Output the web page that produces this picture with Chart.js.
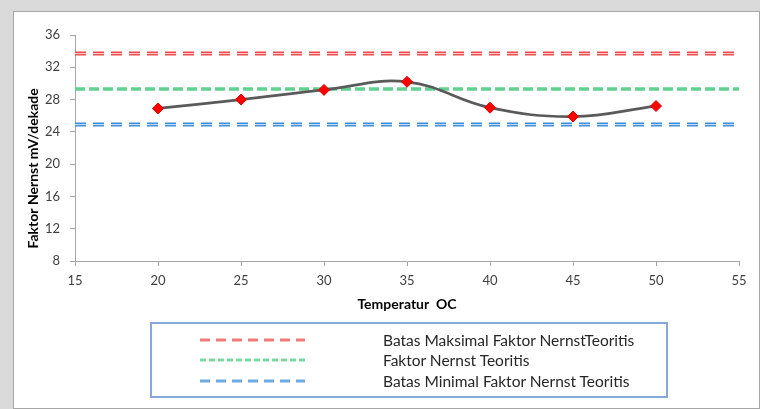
<!DOCTYPE html>
<html>
<head>
<meta charset="utf-8">
<script src="https://cdn.jsdelivr.net/npm/chart.js@4/dist/chart.umd.min.js"></script>
<style>
html,body{margin:0;padding:0;width:760px;height:409px;overflow:hidden;background:#dadada;}
#frame{position:absolute;left:13px;top:11px;width:745px;height:396px;background:#ffffff;border:1px solid #a6a6a6;}
#c{position:absolute;left:0;top:0;}
#legend{position:absolute;left:150px;top:322px;width:514px;height:72px;border:2px solid #86abd8;font-family:Lato,"Open Sans",sans-serif;font-size:15.5px;color:#262626;}
.row{position:absolute;left:0;width:514px;height:20px;}
.row svg{position:absolute;left:48px;top:0;}
.row span{position:absolute;left:231px;top:0px;white-space:nowrap;line-height:20px;}
</style>
</head>
<body>
<div id="frame"></div>
<canvas id="c" width="760" height="409"></canvas>
<div id="legend"></div>
<script>
// ---- data ----
const temperatures = [20, 25, 30, 35, 40, 45, 50];
const nernstFactor = [26.9, 28.0, 29.2, 30.2, 27.0, 25.9, 27.2];
const xRange = [15, 55];
const maxTheoretical = 33.7;
const theoretical = 29.3;
const minTheoretical = 24.9;
const legendLabels = [
  'Batas Maksimal Faktor NernstTeoritis',
  'Faktor Nernst Teoritis',
  'Batas Minimal Faktor Nernst Teoritis'
];
const xTickRange = {min: 15, max: 55, step: 5};
const yTickRange = {min: 8, max: 36, step: 4};
const xTitle = 'Temperatur  OC';
const yTitle = 'Faktor Nernst mV/dekade';

const flat = v => xRange.map(x => ({x: x, y: v}));
const measured = temperatures.map((t, i) => ({x: t, y: nernstFactor[i]}));

const FONT = 'Lato, "Open Sans", sans-serif';

const refLines = [
  {label: legendLabels[0], value: maxTheoretical, color: '#f04a4a', legendColor: '#f27a7a', dash: [11, 7], width: 4, inner: true, legendDash: '10,6'},
  {label: legendLabels[1], value: theoretical, color: '#62d08f', legendColor: '#7ad9a0', dash: [10, 4], width: 3.5, inner: false, legendDash: '6,3'},
  {label: legendLabels[2], value: minTheoretical, color: '#3a8ddb', legendColor: '#6fa9df', dash: [11, 7], width: 4, inner: true, legendDash: '10,6'}
];

const datasets = [{
  label: 'Faktor Nernst',
  data: measured,
  borderColor: '#5a5a5a',
  borderWidth: 2.75,
  tension: 0.4,
  pointStyle: 'rectRot',
  pointRadius: 5.5,
  pointBackgroundColor: '#ff0000',
  pointBorderColor: '#e00000',
  pointBorderWidth: 1,
  order: 0
}];
refLines.forEach(r => {
  datasets.push({
    label: r.label, data: flat(r.value), borderColor: r.color, borderWidth: r.width,
    borderDash: r.dash, pointRadius: 0, order: 2
  });
  if (r.inner) {
    datasets.push({
      label: r.label + ' (inner)', data: flat(r.value), borderColor: 'rgba(255,255,255,0.75)', borderWidth: 1,
      borderDash: r.dash, pointRadius: 0, order: 1
    });
  }
});

const gridCfg = {display: true, drawOnChartArea: false, drawTicks: true, tickLength: 5, tickColor: '#a6a6a6'};
const borderCfg = {display: true, color: '#a6a6a6', width: 1};

new Chart(document.getElementById('c'), {
  type: 'line',
  data: {datasets: datasets},
  options: {
    responsive: false,
    animation: false,
    devicePixelRatio: 1,
    layout: {padding: {left: 0, top: 35, right: 21, bottom: 96}},
    plugins: {legend: {display: false}, tooltip: {enabled: false}},
    scales: {
      x: {
        type: 'linear', min: xTickRange.min, max: xTickRange.max,
        grid: gridCfg, border: borderCfg,
        ticks: {stepSize: xTickRange.step, color: '#404040', padding: 7, font: {family: FONT, size: 13}},
        title: {display: true, text: xTitle, color: '#000', font: {family: FONT, size: 14, weight: 'bold'}, padding: {top: 0, bottom: 0.6}},
        afterFit: s => { s.height = 52; }
      },
      y: {
        type: 'linear', min: yTickRange.min, max: yTickRange.max,
        grid: gridCfg, border: borderCfg,
        ticks: {stepSize: yTickRange.step, color: '#404040', padding: 10, font: {family: FONT, size: 13}},
        title: {display: true, text: yTitle + '\u0020'.repeat(12), color: '#000', font: {family: FONT, size: 14, weight: 'bold'}, padding: {top: 24.6, bottom: 0}},
        afterFit: s => { s.width = 75; }
      }
    }
  }
});

// HTML legend built from the reference-line definitions
const lg = document.getElementById('legend');
const rowTops = [6, 26, 47];
refLines.forEach((r, i) => {
  const row = document.createElement('div');
  row.className = 'row';
  row.style.top = rowTops[i] + 'px';
  row.innerHTML = '<svg width="110" height="20"><line x1="0" y1="10" x2="105" y2="10" stroke="' + r.legendColor +
    '" stroke-width="3" stroke-dasharray="' + r.legendDash + '"/></svg><span>' + r.label + '</span>';
  lg.appendChild(row);
});
</script>
</body>
</html>
